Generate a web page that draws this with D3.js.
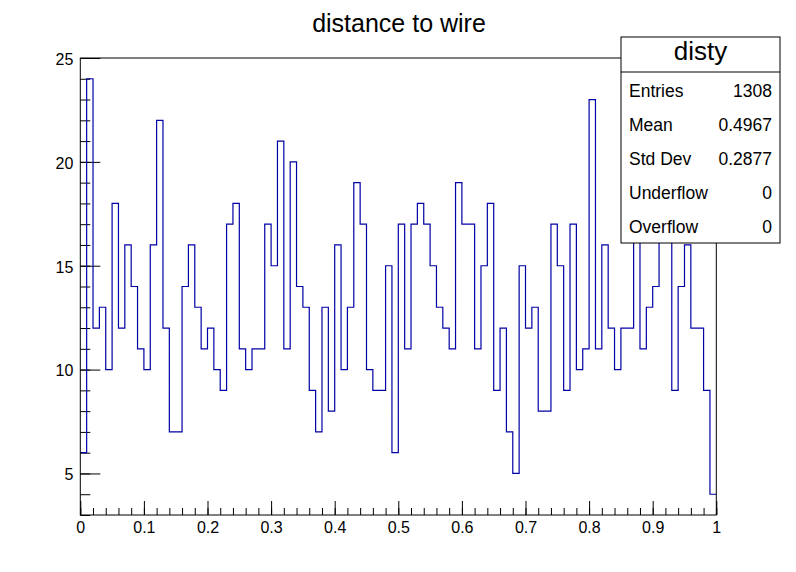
<!doctype html>
<html>
<head>
    <meta charset="UTF-8">
    <title>disty</title>
    <script src="https://d3js.org/d3.v7.min.js"></script>
    <style>
        body { margin: 0; background: #fff; }
        text { font-family: "Liberation Sans", Arial, Helvetica, sans-serif; fill: #000; }
    </style>
</head>
<body>
<script>
    // histogram "disty": 100 bins from 0 to 1
    var xMin = 0, xMax = 1, nBins = 100;
    var counts = [
        6, 24, 12, 13, 10, 18, 12, 16, 14, 11,
        10, 16, 22, 12, 7, 7, 14, 16, 13, 11,
        12, 10, 9, 17, 18, 11, 10, 11, 11, 17,
        15, 21, 11, 20, 14, 13, 9, 7, 13, 8,
        16, 10, 13, 19, 17, 10, 9, 9, 15, 6,
        17, 11, 17, 18, 17, 15, 13, 12, 11, 19,
        17, 17, 11, 15, 18, 9, 12, 7, 5, 15,
        12, 13, 8, 8, 17, 15, 9, 17, 10, 11,
        23, 11, 16, 12, 10, 12, 12, 19, 11, 13,
        14, 20, 18, 9, 14, 16, 12, 12, 9, 4
    ];
    var xTicks = [0, 0.1, 0.2, 0.3, 0.4, 0.5, 0.6, 0.7, 0.8, 0.9, 1];
    var xTickLabels = ["0", "0.1", "0.2", "0.3", "0.4", "0.5", "0.6", "0.7", "0.8", "0.9", "1"];
    var yTicks = [5, 10, 15, 20, 25];
    var yTickLabels = ["5", "10", "15", "20", "25"];
    var yMin = 3, yMax = 25;

    var title = "distance to wire";
    var statsName = "disty";
    var statsLabels = ["Entries", "Mean", "Std Dev", "Underflow", "Overflow"];
    var statsValues = ["1308", "0.4967", "0.2877", "0", "0"];

    draw();

    function draw(){
        var w = 796, h = 572;
        var padL = 80.3, padR = 716.3, padT = 58, padB = 515;

        var svg = d3.select("body").append("svg")
            .attr("width", w)
            .attr("height", h);

        var x = d3.scaleLinear().domain([xMin, xMax]).range([padL, padR]);
        var y = d3.scaleLinear().domain([yMin, yMax]).range([padB, padT]);

        // title
        svg.append("text")
            .attr("x", 399)
            .attr("y", 32)
            .attr("text-anchor", "middle")
            .style("font-size", "25px")
            .text(title);

        // minor ticks
        var xMinor = d3.range(xMin, xMax + 1e-9, 0.02);
        var yMinor = d3.range(yMin, yMax + 1e-9, 1);
        svg.append("g")
            .attr("transform", "translate(0," + padB + ")")
            .call(d3.axisBottom(x).tickValues(xMinor).tickSize(-7).tickFormat(""))
            .call(function(g){ g.select(".domain").remove(); g.selectAll("text").remove(); });
        svg.append("g")
            .attr("transform", "translate(" + padL + ",0)")
            .call(d3.axisLeft(y).tickValues(yMinor).tickSize(-10).tickFormat(""))
            .call(function(g){ g.select(".domain").remove(); g.selectAll("text").remove(); });

        // major ticks + labels
        var gx = svg.append("g")
            .attr("transform", "translate(0," + padB + ")")
            .call(d3.axisBottom(x).tickValues(xTicks).tickSize(-14).tickPadding(7)
                .tickFormat(function(d, i){ return xTickLabels[i]; }));
        gx.select(".domain").remove();
        gx.attr("font-size", null).attr("font-family", null);
        gx.selectAll("text").style("font-size", "16px");

        var gy = svg.append("g")
            .attr("transform", "translate(" + padL + ",0)")
            .call(d3.axisLeft(y).tickValues(yTicks).tickSize(-20).tickPadding(7)
                .tickFormat(function(d, i){ return yTickLabels[i]; }));
        gy.select(".domain").remove();
        gy.attr("font-size", null).attr("font-family", null);
        gy.selectAll("text").style("font-size", "16px").attr("dy", "0.4em");

        svg.selectAll(".tick line").attr("stroke", "#000").attr("stroke-width", 1);

        // histogram outline
        var binW = (xMax - xMin) / nBins;
        var pts = counts.map(function(c, i){ return [xMin + i * binW, c]; });
        pts.push([xMax, counts[counts.length - 1]]);
        var line = d3.line()
            .x(function(d){ return x(d[0]); })
            .y(function(d){ return y(d[1]); })
            .curve(d3.curveStepAfter);
        svg.append("path")
            .datum(pts)
            .attr("d", line)
            .attr("fill", "none")
            .attr("stroke", "#0000a6")
            .attr("stroke-width", 1.2);

        // frame
        svg.append("rect")
            .attr("x", padL)
            .attr("y", padT)
            .attr("width", padR - padL)
            .attr("height", padB - padT)
            .attr("fill", "none")
            .attr("stroke", "#000")
            .attr("stroke-width", 1);

        // stats box
        var bx0 = 621, bx1 = 780, by0 = 37, by1 = 243, bsep = 72;
        var stats = svg.append("g");
        stats.append("rect")
            .attr("x", bx0).attr("y", by0)
            .attr("width", bx1 - bx0).attr("height", by1 - by0)
            .attr("fill", "#fff").attr("stroke", "#000").attr("stroke-width", 1);
        stats.append("line")
            .attr("x1", bx0).attr("x2", bx1).attr("y1", bsep).attr("y2", bsep)
            .attr("stroke", "#000").attr("stroke-width", 1);
        stats.append("text")
            .attr("x", (bx0 + bx1) / 2)
            .attr("y", 60)
            .attr("text-anchor", "middle")
            .style("font-size", "26px")
            .text(statsName);

        var rowY = d3.scaleLinear().domain([0, statsLabels.length - 1]).range([91, 227]);
        stats.selectAll("text.lab")
            .data(statsLabels)
            .enter().append("text")
            .attr("class", "lab")
            .attr("x", 629)
            .attr("y", function(d, i){ return rowY(i); })
            .attr("dy", "0.36em")
            .style("font-size", "17.5px")
            .text(function(d){ return d; });
        stats.selectAll("text.val")
            .data(statsValues)
            .enter().append("text")
            .attr("class", "val")
            .attr("x", 772)
            .attr("y", function(d, i){ return rowY(i); })
            .attr("dy", "0.36em")
            .attr("text-anchor", "end")
            .style("font-size", "17.5px")
            .text(function(d){ return d; });
    }
</script>
</body>
</html>
